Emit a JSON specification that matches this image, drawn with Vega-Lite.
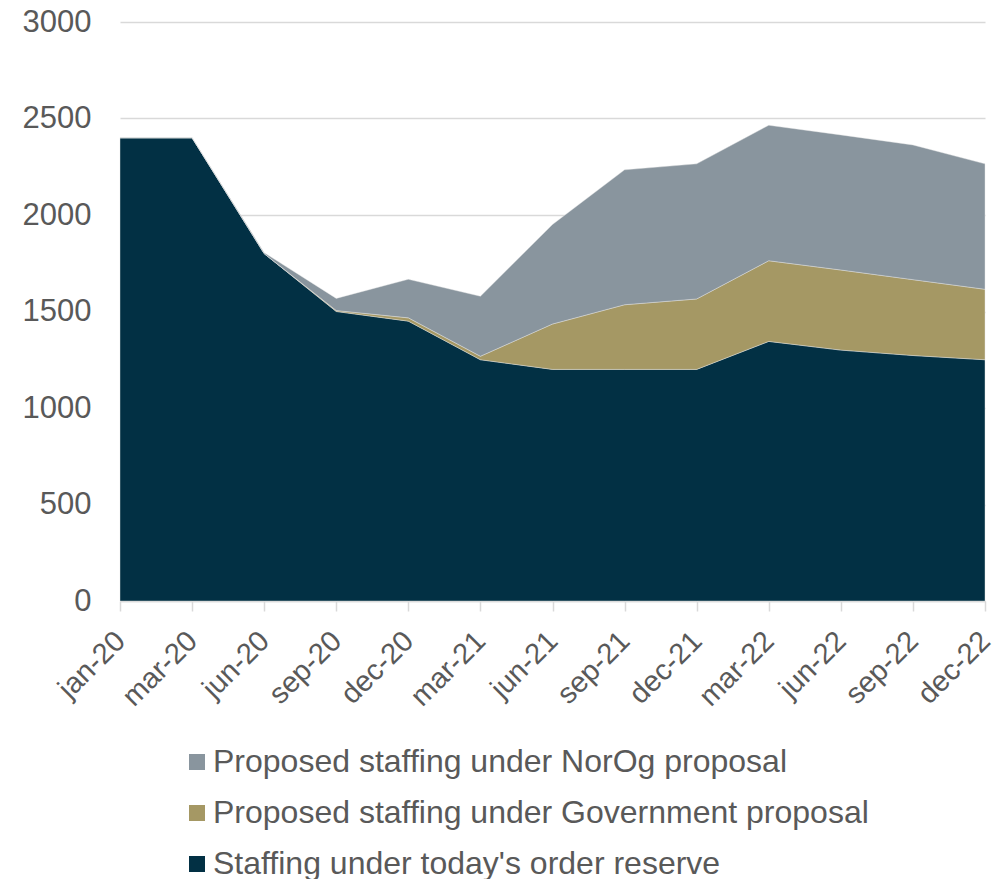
{
  "$schema": "https://vega.github.io/schema/vega-lite/v6.json",
  "autosize": "none",
  "width": 865,
  "height": 579,
  "padding": {"left": 120, "top": 22, "right": 13, "bottom": 278},
  "background": "white",
  "config": {
    "view": {"stroke": null},
    "font": "Liberation Sans"
  },
  "data": {
    "values": [
      {"month": "jan-20", "series": "Staffing under today's order reserve", "value": 2400},
      {"month": "mar-20", "series": "Staffing under today's order reserve", "value": 2400},
      {"month": "jun-20", "series": "Staffing under today's order reserve", "value": 1800},
      {"month": "sep-20", "series": "Staffing under today's order reserve", "value": 1500},
      {"month": "dec-20", "series": "Staffing under today's order reserve", "value": 1450},
      {"month": "mar-21", "series": "Staffing under today's order reserve", "value": 1250},
      {"month": "jun-21", "series": "Staffing under today's order reserve", "value": 1200},
      {"month": "sep-21", "series": "Staffing under today's order reserve", "value": 1200},
      {"month": "dec-21", "series": "Staffing under today's order reserve", "value": 1200},
      {"month": "mar-22", "series": "Staffing under today's order reserve", "value": 1345},
      {"month": "jun-22", "series": "Staffing under today's order reserve", "value": 1300},
      {"month": "sep-22", "series": "Staffing under today's order reserve", "value": 1272},
      {"month": "dec-22", "series": "Staffing under today's order reserve", "value": 1250},
      {"month": "jan-20", "series": "Proposed staffing under Government proposal", "value": 0},
      {"month": "mar-20", "series": "Proposed staffing under Government proposal", "value": 0},
      {"month": "jun-20", "series": "Proposed staffing under Government proposal", "value": 0},
      {"month": "sep-20", "series": "Proposed staffing under Government proposal", "value": 5},
      {"month": "dec-20", "series": "Proposed staffing under Government proposal", "value": 17},
      {"month": "mar-21", "series": "Proposed staffing under Government proposal", "value": 18},
      {"month": "jun-21", "series": "Proposed staffing under Government proposal", "value": 235},
      {"month": "sep-21", "series": "Proposed staffing under Government proposal", "value": 335},
      {"month": "dec-21", "series": "Proposed staffing under Government proposal", "value": 365},
      {"month": "mar-22", "series": "Proposed staffing under Government proposal", "value": 418},
      {"month": "jun-22", "series": "Proposed staffing under Government proposal", "value": 415},
      {"month": "sep-22", "series": "Proposed staffing under Government proposal", "value": 393},
      {"month": "dec-22", "series": "Proposed staffing under Government proposal", "value": 365},
      {"month": "jan-20", "series": "Proposed staffing under NorOg proposal", "value": 0},
      {"month": "mar-20", "series": "Proposed staffing under NorOg proposal", "value": 0},
      {"month": "jun-20", "series": "Proposed staffing under NorOg proposal", "value": 5},
      {"month": "sep-20", "series": "Proposed staffing under NorOg proposal", "value": 63},
      {"month": "dec-20", "series": "Proposed staffing under NorOg proposal", "value": 200},
      {"month": "mar-21", "series": "Proposed staffing under NorOg proposal", "value": 311},
      {"month": "jun-21", "series": "Proposed staffing under NorOg proposal", "value": 516},
      {"month": "sep-21", "series": "Proposed staffing under NorOg proposal", "value": 699},
      {"month": "dec-21", "series": "Proposed staffing under NorOg proposal", "value": 700},
      {"month": "mar-22", "series": "Proposed staffing under NorOg proposal", "value": 702},
      {"month": "jun-22", "series": "Proposed staffing under NorOg proposal", "value": 700},
      {"month": "sep-22", "series": "Proposed staffing under NorOg proposal", "value": 698},
      {"month": "dec-22", "series": "Proposed staffing under NorOg proposal", "value": 650}
    ]
  },
  "transform": [
    {"calculate": "indexof(['Staffing under today\\'s order reserve', 'Proposed staffing under Government proposal', 'Proposed staffing under NorOg proposal'], datum.series)", "as": "stackOrder"}
  ],
  "mark": {"type": "area", "stroke": "#e6e6e6", "strokeWidth": 0.6, "strokeOpacity": 0.7},
  "encoding": {
    "x": {
      "field": "month",
      "type": "ordinal",
      "sort": null,
      "scale": {"type": "point", "padding": 0},
      "title": null,
      "axis": {
        "labelAngle": -45,
        "labelAlign": "right",
        "labelBaseline": "middle",
        "labelFontSize": 29,
        "labelColor": "#595959",
        "labelFont": "Liberation Sans",
        "domainColor": "#d9d9d9",
        "domainWidth": 1.5,
        "tickColor": "#d9d9d9",
        "tickWidth": 1.5,
        "tickSize": 10,
        "labelPadding": 25,
        "labelBound": false,
        "labelOverlap": false,
        "grid": false
      }
    },
    "y": {
      "field": "value",
      "type": "quantitative",
      "aggregate": "sum",
      "stack": "zero",
      "scale": {"domain": [0, 3000], "nice": false},
      "title": null,
      "axis": {
        "values": [0, 500, 1000, 1500, 2000, 2500, 3000],
        "format": "d",
        "labelFontSize": 31,
        "labelColor": "#595959",
        "labelFont": "Liberation Sans",
        "domain": false,
        "ticks": false,
        "labelPadding": 29,
        "gridColor": "#d9d9d9",
        "gridWidth": 1.5
      }
    },
    "color": {
      "field": "series",
      "type": "nominal",
      "scale": {
        "domain": ["Proposed staffing under NorOg proposal", "Proposed staffing under Government proposal", "Staffing under today's order reserve"],
        "range": ["#89959e", "#a59864", "#023044"]
      },
      "legend": {
        "title": null,
        "orient": "none",
        "direction": "vertical",
        "legendX": 61,
        "legendY": 724,
        "symbolType": "square",
        "symbolSize": 256,
        "symbolStrokeWidth": 0,
        "labelFontSize": 32,
        "labelColor": "#595959",
        "labelFont": "Liberation Sans",
        "labelOffset": 0,
        "rowPadding": 19,
        "labelLimit": 900,
        "padding": 0
      }
    },
    "order": {"field": "stackOrder", "type": "quantitative"}
  }
}
